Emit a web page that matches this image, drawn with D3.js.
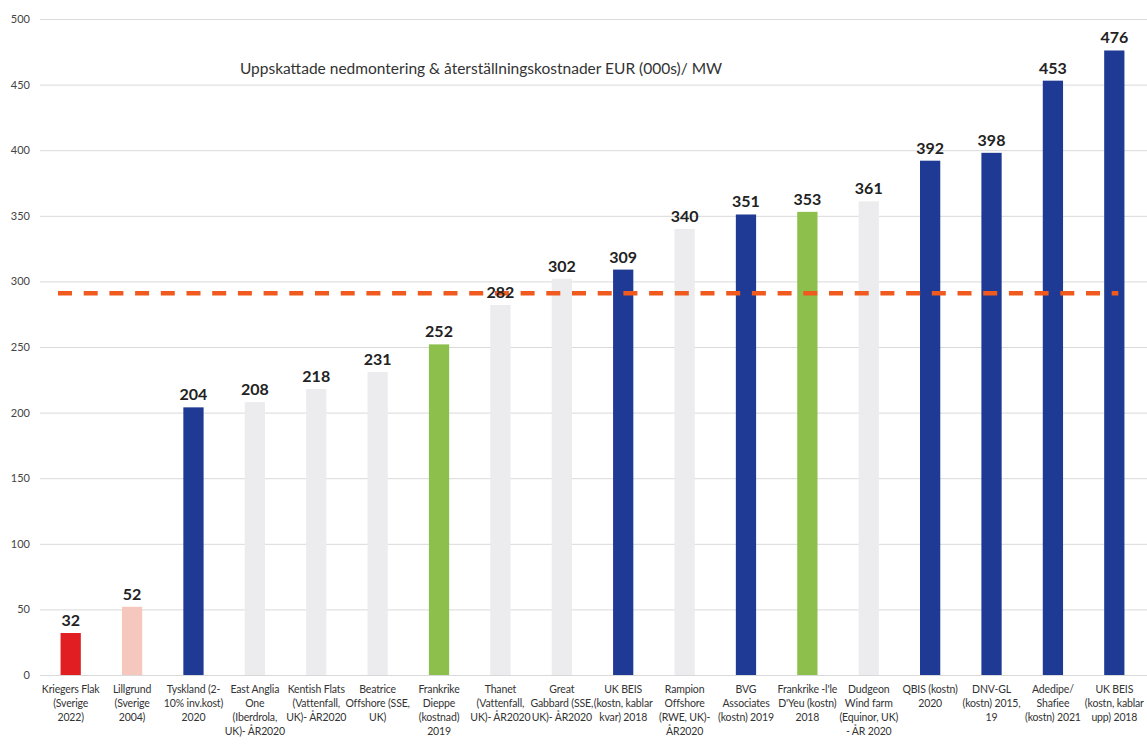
<!DOCTYPE html>
<html>
<head>
<meta charset="utf-8">
<script src="https://cdn.jsdelivr.net/npm/d3@7"></script>
<style>
  html, body { margin: 0; padding: 0; background: #fff; }
  svg { display: block; font-family: Lato, "Open Sans", sans-serif; }
</style>
</head>
<body>
<svg id="chart" width="1147" height="754"></svg>
<script>
// ---- data ----
const categories = [
  ["Kriegers Flak", "(Sverige", "2022)"],
  ["Lillgrund", "(Sverige", "2004)"],
  ["Tyskland (2-", "10% inv.kost)", "2020"],
  ["East Anglia", "One", "(Iberdrola,", "UK)- ÅR2020"],
  ["Kentish Flats", "(Vattenfall,", "UK)- ÅR2020"],
  ["Beatrice", "Offshore (SSE,", "UK)"],
  ["Frankrike", "Dieppe", "(kostnad)", "2019"],
  ["Thanet", "(Vattenfall,", "UK)- ÅR2020"],
  ["Great", "Gabbard (SSE,", "UK)- ÅR2020"],
  ["UK BEIS", "(kostn, kablar", "kvar) 2018"],
  ["Rampion", "Offshore", "(RWE, UK)-", "ÅR2020"],
  ["BVG", "Associates", "(kostn) 2019"],
  ["Frankrike -l'le", "D'Yeu (kostn)", "2018"],
  ["Dudgeon", "Wind farm", "(Equinor, UK)", "- ÅR 2020"],
  ["QBIS (kostn)", "2020"],
  ["DNV-GL", "(kostn) 2015,", "19"],
  ["Adedipe/", "Shafiee", "(kostn) 2021"],
  ["UK BEIS", "(kostn, kablar", "upp) 2018"]
];
const values = [32, 52, 204, 208, 218, 231, 252, 282, 302, 309, 340, 351, 353, 361, 392, 398, 453, 476];
const groups = ["kriegers", "lillgrund", "estimate", "site", "site", "site", "france", "site", "site",
                "estimate", "site", "estimate", "france", "site", "estimate", "estimate", "estimate", "estimate"];
const averageValue = 291;
const yTicks = [0, 50, 100, 150, 200, 250, 300, 350, 400, 450, 500];
const title = "Uppskattade nedmontering & återställningskostnader EUR (000s)/ MW";

// ---- styles ----
const groupColor = {
  kriegers: "#e11f22",
  lillgrund: "#f6c7bd",
  estimate: "#1f3a94",
  site: "#ececee",
  france: "#8dbf4d"
};

const svg = d3.select("#chart");
const W = 1147, H = 754;

const y = d3.scaleLinear().domain([0, 500]).range([675, 19]);
const x = d3.scaleBand()
  .domain(d3.range(values.length))
  .range([40, 1145])
  .paddingInner(0.67)
  .paddingOuter(0.335);

// gridlines
const yAxis = d3.axisLeft(y).tickValues(yTicks).tickSize(-(W - 40)).tickPadding(10);
const gAxis = svg.append("g").attr("transform", "translate(40,0)").call(yAxis);
gAxis.select(".domain").remove();
gAxis.selectAll(".tick line").attr("stroke", "#d9d9d9").attr("stroke-width", 1);
gAxis.selectAll(".tick text")
  .attr("fill", "#444")
  .attr("font-size", 11)
  .attr("font-family", "Lato, 'Open Sans', sans-serif");

// title
svg.append("text")
  .attr("x", 481).attr("y", 74)
  .attr("text-anchor", "middle")
  .attr("font-size", 15.5)
  .attr("fill", "#333")
  .text(title);

// bars
svg.append("g").selectAll("rect")
  .data(values)
  .join("rect")
  .attr("x", (d, i) => x(i))
  .attr("y", d => y(d))
  .attr("width", x.bandwidth())
  .attr("height", d => y(0) - y(d))
  .attr("fill", (d, i) => groupColor[groups[i]]);

// average dashed line
const avgStart = x.range()[0] + 18;
const avgEnd = x(values.length - 1) + x.bandwidth() / 2 + 4;
svg.append("line")
  .attr("x1", avgStart).attr("x2", avgEnd)
  .attr("y1", y(averageValue)).attr("y2", y(averageValue))
  .attr("stroke", "#f05a1e")
  .attr("stroke-width", 4.5)
  .attr("stroke-dasharray", "14,11.7");

// value labels
svg.append("g").selectAll("text")
  .data(values)
  .join("text")
  .attr("x", (d, i) => x(i) + x.bandwidth() / 2)
  .attr("y", d => y(d) - 7)
  .attr("text-anchor", "middle")
  .attr("font-size", 16)
  .attr("font-weight", "bold")
  .attr("fill", "#222")
  .text(d => d);

// category labels
const catG = svg.append("g").selectAll("text")
  .data(categories)
  .join("text")
  .attr("x", (d, i) => x(i) + x.bandwidth() / 2)
  .attr("y", 693)
  .attr("text-anchor", "middle")
  .attr("font-size", 10.5)
  .attr("letter-spacing", -0.15)
  .attr("fill", "#333");
catG.selectAll("tspan")
  .data(d => d)
  .join("tspan")
  .attr("x", function() { return d3.select(this.parentNode).attr("x"); })
  .attr("dy", (d, j) => j === 0 ? 0 : 14)
  .text(d => d);
</script>
</body>
</html>
